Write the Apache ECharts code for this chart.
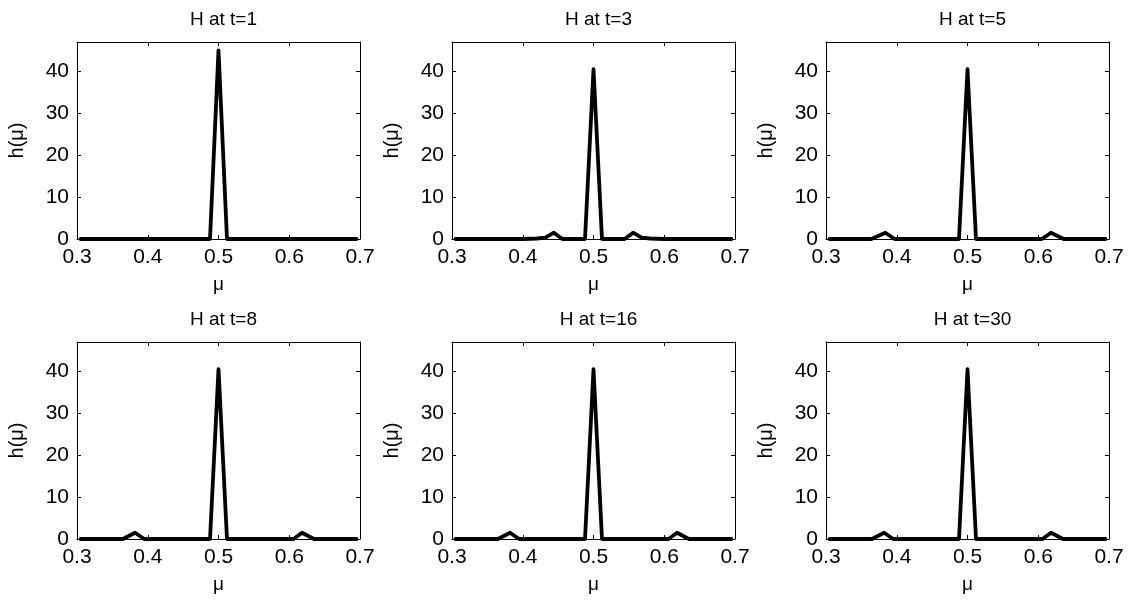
<!DOCTYPE html>
<html>
<head>
<meta charset="utf-8">
<script src="https://cdn.jsdelivr.net/npm/echarts@6/dist/echarts.min.js"></script>
<style>
html,body{margin:0;padding:0;background:#fff;}
#c{width:1129px;height:603px;}
</style>
</head>
<body>
<div id="c"></div>
<script>
// ---- data ----
const titles = ["H at t=1", "H at t=3", "H at t=5", "H at t=8", "H at t=16", "H at t=30"];
const xTicks = [0.3, 0.4, 0.5, 0.6, 0.7];
const yTicks = [0, 10, 20, 30, 40];

const mu_t1 = [0.305, 0.488, 0.5, 0.512, 0.695];
const h_t1  = [0, 0, 45, 0, 0];

const mu_t3 = [0.305, 0.40, 0.42, 0.432, 0.444, 0.456, 0.488, 0.5, 0.512, 0.544, 0.556, 0.568, 0.58, 0.60, 0.695];
const h_t3  = [0, 0, 0.12, 0.35, 1.5, 0, 0, 40.5, 0, 0, 1.5, 0.35, 0.12, 0, 0];

const mu_t5 = [0.305, 0.364, 0.384, 0.397, 0.488, 0.5, 0.512, 0.605, 0.618, 0.636, 0.695];
const h_t5  = [0, 0, 1.5, 0, 0, 40.5, 0, 0, 1.5, 0, 0];

const mu_t8 = [0.305, 0.365, 0.382, 0.395, 0.488, 0.5, 0.512, 0.606, 0.618, 0.635, 0.695];
const h_t8  = [0, 0, 1.5, 0, 0, 40.5, 0, 0, 1.5, 0, 0];

const mu_t16 = [0.305, 0.365, 0.382, 0.395, 0.488, 0.5, 0.512, 0.606, 0.618, 0.635, 0.695];
const h_t16  = [0, 0, 1.5, 0, 0, 40.5, 0, 0, 1.5, 0, 0];

const mu_t30 = [0.305, 0.365, 0.382, 0.395, 0.488, 0.5, 0.512, 0.606, 0.618, 0.635, 0.695];
const h_t30  = [0, 0, 1.5, 0, 0, 40.5, 0, 0, 1.5, 0, 0];

const panels = [[mu_t1, h_t1], [mu_t3, h_t3], [mu_t5, h_t5], [mu_t8, h_t8], [mu_t16, h_t16], [mu_t30, h_t30]];

// ---- layout ----
const FONT = "Liberation Sans, Arial, Helvetica, sans-serif";
const lefts = [77, 452, 826];
const tops = [42, 342];
const W = 283, H = 197;
const X_MIN = 0.3, X_MAX = 0.7, X_INT = 0.1;
const Y_MIN = 0, Y_MAX = 47, Y_INT = 10;

const grids = [], xAxes = [], yAxes = [], series = [], titleArr = [];
const lineAx = {show: true, onZero: false, lineStyle: {color: '#000', width: 1}};
const tickIn = {show: true, inside: true, length: 4, lineStyle: {color: '#000', width: 1}};

panels.forEach((p, i) => {
  const r = Math.floor(i / 3), c = i % 3;
  grids.push({left: lefts[c], top: tops[r], width: W, height: H, show: false});
  titleArr.push({
    text: titles[i], left: lefts[c] + W / 2, top: tops[r] - 37, textAlign: 'center',
    textStyle: {fontFamily: FONT, fontSize: 19, fontWeight: 'normal', color: '#000'}
  });
  const xi = xAxes.length;
  xAxes.push({
    type: 'value', gridIndex: i, position: 'bottom', min: X_MIN, max: X_MAX, interval: X_INT,
    axisLine: lineAx, axisTick: tickIn, splitLine: {show: false},
    axisLabel: {fontFamily: FONT, fontSize: 21, color: '#000', margin: 8, formatter: v => v.toFixed(1)},
    name: 'μ', nameLocation: 'middle', nameGap: 36,
    nameTextStyle: {fontFamily: FONT, fontSize: 19, color: '#000'}
  });
  xAxes.push({
    type: 'value', gridIndex: i, position: 'top', min: X_MIN, max: X_MAX, interval: X_INT,
    axisLine: lineAx, axisTick: tickIn, splitLine: {show: false}, axisLabel: {show: false}
  });
  const yi = yAxes.length;
  yAxes.push({
    type: 'value', gridIndex: i, position: 'left', min: Y_MIN, max: Y_MAX, interval: Y_INT,
    axisLine: lineAx, axisTick: tickIn, splitLine: {show: false},
    axisLabel: {fontFamily: FONT, fontSize: 21, color: '#000', margin: 8, showMaxLabel: false,
                formatter: v => (yTicks.indexOf(v) >= 0 ? String(v) : '')},
    name: 'h(μ)', nameLocation: 'middle', nameGap: 50, nameRotate: 90,
    nameTextStyle: {fontFamily: FONT, fontSize: 20, color: '#000'}
  });
  yAxes.push({
    type: 'value', gridIndex: i, position: 'right', min: Y_MIN, max: Y_MAX, interval: Y_INT,
    axisLine: lineAx, axisTick: tickIn, splitLine: {show: false}, axisLabel: {show: false}
  });
  series.push({
    type: 'line', xAxisIndex: xi, yAxisIndex: yi,
    data: p[0].map((m, k) => [m, p[1][k]]),
    showSymbol: false, symbol: 'none', animation: false,
    lineStyle: {color: '#000', width: 3.8, join: 'round', cap: 'round'}
  });
});

const chart = echarts.init(document.getElementById('c'), null, {renderer: 'canvas'});
chart.setOption({
  backgroundColor: '#fff',
  animation: false,
  title: titleArr,
  grid: grids,
  xAxis: xAxes,
  yAxis: yAxes,
  series: series
});
</script>
</body>
</html>
